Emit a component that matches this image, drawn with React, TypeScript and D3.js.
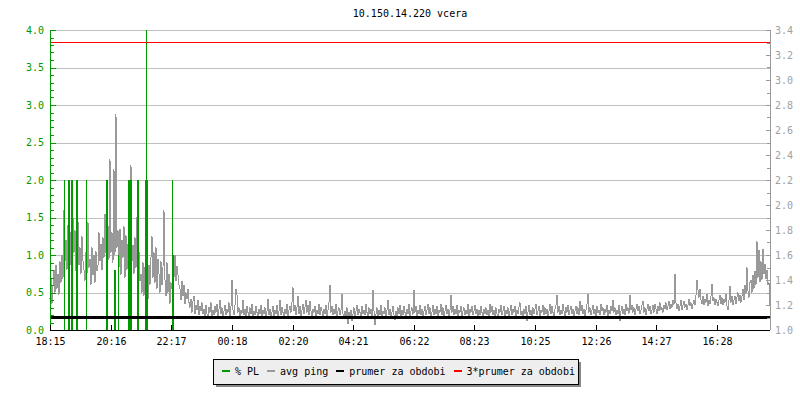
import React from 'react';
import * as d3 from 'd3';

const title = '10.150.14.220 vcera';
const xTickLabels = ['18:15', '20:16', '22:17', '00:18', '02:20', '04:21', '06:22', '08:23', '10:25', '12:26', '14:27', '16:28'];
const leftTicks = [0, 0.5, 1.0, 1.5, 2.0, 2.5, 3.0, 3.5, 4.0];
const rightTicks = [1.0, 1.2, 1.4, 1.6, 1.8, 2.0, 2.2, 2.4, 2.6, 2.8, 3.0, 3.2, 3.4];
const pingStepMinutes = 2;
// avg ping (ms), one sample every 2 minutes starting 18:15
const avgPing = [
  1.25, 1.42, 1.21, 1.36, 1.48, 1.30, 1.52, 1.33, 1.45, 1.28, 1.55, 1.38, 1.60, 1.41,
  1.96, 1.55, 1.72, 1.48, 1.84, 1.60, 1.52, 1.78, 1.50, 1.90,
  1.62, 1.80, 1.47, 1.70, 1.87, 1.52, 1.66, 1.45, 1.75, 1.55,
  1.48, 1.39, 1.62, 1.45, 1.86, 1.50, 1.57, 1.36, 1.66, 1.44, 1.60, 1.38, 1.63, 1.47,
  1.52, 1.78, 1.55, 1.69, 1.48, 1.74, 1.58, 1.93, 1.62, 1.50, 1.84, 1.56, 2.37,
  1.62, 1.78, 1.54, 2.29, 1.60, 2.73, 1.66, 1.80,
  1.50, 1.81, 1.44, 1.72, 1.58, 1.83, 1.42, 1.76, 1.48, 1.69, 1.53, 1.78,
  2.32, 1.55, 1.68, 1.45, 1.74, 1.50, 1.90, 1.42, 1.63, 1.39,
  1.45, 1.30, 1.54, 1.27, 1.50, 1.33, 1.48, 1.24, 1.52, 1.36,
  1.58, 1.75, 1.42, 1.62, 1.38, 1.66, 1.33, 1.57, 1.45, 1.30, 1.55, 1.36, 1.50, 1.96,
  1.40, 1.27, 1.54, 1.30, 1.45, 1.21, 1.38, 1.33,
  1.57, 1.42, 1.60, 1.39, 1.51, 1.44, 1.36,
  1.33, 1.24, 1.39, 1.27, 1.36, 1.21, 1.30, 1.25, 1.33, 1.22,
  1.18, 1.25, 1.14, 1.23, 1.27, 1.13, 1.20, 1.16, 1.24, 1.12, 1.19, 1.15, 1.22, 1.13,
  1.17, 1.11, 1.20, 1.13, 1.09, 1.18, 1.14, 1.22, 1.10, 1.16,
  1.12, 1.19, 1.14, 1.21, 1.11, 1.17, 1.24, 1.13, 1.18, 1.10,
  1.15, 1.20, 1.12, 1.17, 1.14, 1.22, 1.11, 1.19, 1.40, 1.16,
  1.12, 1.20, 1.33, 1.28, 1.14, 1.18, 1.11, 1.16, 1.13, 1.24,
  1.12, 1.17, 1.10, 1.19, 1.14, 1.11, 1.18, 1.13, 1.21, 1.09,
  1.15, 1.12, 1.19, 1.14, 1.10, 1.17, 1.13, 1.20, 1.11, 1.16,
  1.13, 1.18, 1.10, 1.15, 1.25, 1.12, 1.17, 1.09, 1.14, 1.19,
  1.11, 1.16, 1.13, 1.20, 1.10, 1.15, 1.24, 1.12, 1.18, 1.14,
  1.10, 1.17, 1.13, 1.21, 1.11, 1.16, 1.19, 1.14, 1.22, 1.34,
  1.15, 1.20, 1.12, 1.18, 1.27, 1.13, 1.19, 1.11, 1.16, 1.21,
  1.13, 1.18, 1.24, 1.14, 1.20, 1.12, 1.23, 1.15, 1.11, 1.17,
  1.14, 1.19, 1.10, 1.16, 1.13, 1.21, 1.12, 1.18, 1.15, 1.11,
  1.17, 1.13, 1.20, 1.09, 1.16, 1.22, 1.36, 1.14, 1.19, 1.12,
  1.17, 1.13, 1.21, 1.10, 1.15, 1.18, 1.12, 1.16, 1.29, 1.13,
  1.09, 1.15, 1.11, 1.18, 1.05, 1.14, 1.10, 1.16, 1.07, 1.13,
  1.18, 1.11, 1.15, 1.20, 1.12, 1.17, 1.14, 1.10, 1.19, 1.13,
  1.16, 1.12, 1.21, 1.14, 1.10, 1.18, 1.13, 1.17, 1.11, 1.32,
  1.15, 1.04, 1.13, 1.18, 1.11, 1.16, 1.12, 1.20, 1.09, 1.15,
  1.13, 1.18, 1.11, 1.16, 1.24, 1.12, 1.17, 1.10, 1.14, 1.19,
  1.12, 1.08, 1.15, 1.11, 1.18, 1.13, 1.20, 1.10, 1.16, 1.12,
  1.19, 1.14, 1.11, 1.17, 1.13, 1.21, 1.10, 1.15, 1.18, 1.12,
  1.32, 1.14, 1.19, 1.11, 1.16, 1.13, 1.20, 1.12, 1.17, 1.10,
  1.15, 1.19, 1.12, 1.16, 1.21, 1.13, 1.18, 1.11, 1.14, 1.20,
  1.12, 1.17, 1.13, 1.19, 1.10, 1.16, 1.14, 1.21, 1.12, 1.18,
  1.11, 1.15, 1.20, 1.13, 1.17, 1.10, 1.16, 1.28, 1.14, 1.19,
  1.12, 1.17, 1.13, 1.20, 1.11, 1.16, 1.14, 1.19, 1.10, 1.15,
  1.18, 1.12, 1.16, 1.13, 1.21, 1.11, 1.17, 1.14, 1.19, 1.12,
  1.15, 1.20, 1.13, 1.17, 1.10, 1.16, 1.12, 1.19, 1.14, 1.11,
  1.17, 1.13, 1.18, 1.12, 1.16, 1.10, 1.21, 1.14, 1.19, 1.12,
  1.16, 1.11, 1.18, 1.13, 1.10, 1.17, 1.14, 1.20, 1.12, 1.15,
  1.19, 1.11, 1.16, 1.13, 1.18, 1.10, 1.15, 1.20, 1.12, 1.17,
  1.14, 1.19, 1.11, 1.16, 1.13, 1.18, 1.22, 1.12, 1.15, 1.10,
  1.17, 1.13, 1.19, 1.07, 1.14, 1.20, 1.12, 1.16, 1.11, 1.18,
  1.13, 1.17, 1.21, 1.12, 1.15, 1.19, 1.11, 1.16, 1.14, 1.20,
  1.12, 1.18, 1.13, 1.17, 1.10, 1.15, 1.21, 1.13, 1.19, 1.14,
  1.11, 1.17, 1.20, 1.28, 1.14, 1.19, 1.12, 1.16, 1.13, 1.21,
  1.15, 1.11, 1.18, 1.14, 1.20, 1.12, 1.16, 1.19, 1.13, 1.17,
  1.10, 1.15, 1.19, 1.13, 1.18, 1.12, 1.23, 1.15, 1.20, 1.13,
  1.17, 1.11, 1.16, 1.21, 1.29, 1.14, 1.18, 1.12, 1.16, 1.20,
  1.13, 1.17, 1.11, 1.19, 1.14, 1.16, 1.12, 1.21, 1.15, 1.18,
  1.12, 1.17, 1.14, 1.20, 1.11, 1.16, 1.13, 1.19, 1.15, 1.24,
  1.14, 1.18, 1.12, 1.16, 1.13, 1.20, 1.07, 1.15, 1.19, 1.13,
  1.17, 1.12, 1.21, 1.15, 1.18, 1.13, 1.28, 1.16, 1.20, 1.14,
  1.18, 1.12, 1.17, 1.21, 1.15, 1.19, 1.13, 1.16, 1.20, 1.23,
  1.14, 1.18, 1.12, 1.17, 1.21, 1.15, 1.19, 1.13, 1.16, 1.20,
  1.14, 1.21, 1.17, 1.13, 1.19, 1.15, 1.22, 1.16, 1.18, 1.14,
  1.20, 1.17, 1.22, 1.16, 1.19, 1.23, 1.17, 1.21, 1.18, 1.24,
  1.20, 1.45, 1.22, 1.17, 1.21, 1.15, 1.19, 1.24, 1.16, 1.20,
  1.23, 1.18, 1.21, 1.16, 1.20, 1.25, 1.19, 1.22, 1.17, 1.21,
  1.24, 1.20, 1.28, 1.40, 1.32, 1.26, 1.33, 1.24, 1.21, 1.27,
  1.20, 1.25, 1.22, 1.29, 1.19, 1.24, 1.21, 1.27, 1.37, 1.23,
  1.26, 1.20, 1.25, 1.22, 1.19, 1.24, 1.28, 1.21, 1.26, 1.20,
  1.25, 1.22, 1.29, 1.19, 1.16, 1.24, 1.35, 1.22, 1.27, 1.20,
  1.24, 1.27, 1.21, 1.26, 1.30, 1.23, 1.28, 1.22,
  1.27, 1.33, 1.24, 1.36, 1.29, 1.50, 1.31, 1.26, 1.38, 1.40,
  1.30, 1.44, 1.33, 1.47, 1.36, 1.71, 1.42, 1.64, 1.38, 1.55,
  1.40, 1.65, 1.45, 1.53, 1.41, 1.48, 1.36, 1.38, 1.20,
];
// packet loss (%), minutes after 18:15 and values
const plMinutes = [27, 36, 38, 42, 44, 51, 53, 71, 111, 113, 128, 130, 135, 156, 158, 160, 162, 174, 176, 190, 192, 194, 244, 246];
const plValues = [2, 2, 2, 2, 2, 2, 2, 2, 2, 2, 0.8, 0.8, 1.0, 2, 2, 2, 2, 2, 2, 2, 4, 2, 2, 1];
const meanPing = 1.1;
const legendLabels = ['% PL', 'avg ping', 'prumer za obdobi', '3*prumer za obdobi'];
const legendColors = ['#009900', '#999999', '#000000', '#ff0000'];

const FONT = '"DejaVu Sans Mono", monospace';

function minutesAfterStart(label: string): number {
  const [h, m] = label.split(':').map(Number);
  let t = h * 60 + m - (18 * 60 + 15);
  if (t < 0) t += 1440;
  return t;
}

export default function App() {
  const x = d3.scaleLinear().domain([0, 1440]).range([50, 770]);
  const yL = d3.scaleLinear().domain([0, 4]).range([330, 30]);
  const yR = d3.scaleLinear().domain([1.0, 3.4]).range([330, 30]);

  const pingLine = d3
    .line<number>()
    .x((_, i) => x(i * pingStepMinutes))
    .y((d) => yR(d));

  const leftMinor = yL.ticks(40);
  const rightMinor = yR.ticks(24);

  const charW = 6.02;
  let lx = 222;
  const legendPos = legendLabels.map((l) => {
    const p = { sx: lx, tx: lx + 13 };
    lx = lx + 13 + l.length * charW + 8;
    return p;
  });

  return (
    <svg width={800} height={400} style={{ position: 'absolute', left: 0, top: 0, background: '#fff' }} fontFamily={FONT}>
      <rect x={0} y={0} width={800} height={400} fill="#fff" />
      <text x={410} y={17} fontSize={10} textAnchor="middle" fill="#000">{title}</text>

      {/* grid */}
      {leftTicks.filter((t) => t > 0).map((t) => (
        <line key={'g' + t} x1={50} x2={770} y1={Math.round(yL(t)) + 0.5} y2={Math.round(yL(t)) + 0.5} stroke="#c0c0c0" strokeWidth={1} shapeRendering="crispEdges" />
      ))}

      {/* avg ping */}
      <path d={pingLine(avgPing) || ''} fill="none" stroke="#999999" strokeWidth={1} shapeRendering="crispEdges" />

      {/* packet loss */}
      {plMinutes.map((m, i) => (
        <rect key={'pl' + i} x={Math.round(x(m))} width={Math.max(1, Math.round(x(m + 2) - x(m)))} y={yL(plValues[i])} height={yL(0) - yL(plValues[i])} fill="#009900" shapeRendering="crispEdges" />
      ))}

      {/* mean lines */}
      <line x1={50} x2={770} y1={yR(meanPing)} y2={yR(meanPing)} stroke="#000" strokeWidth={2.5} shapeRendering="crispEdges" />
      <line x1={50} x2={770} y1={yR(3 * meanPing)} y2={yR(3 * meanPing)} stroke="#ff0000" strokeWidth={1.6} shapeRendering="crispEdges" />

      {/* left axis */}
      <line x1={50.5} x2={50.5} y1={30} y2={330} stroke="#009900" strokeWidth={1} shapeRendering="crispEdges" />
      {leftMinor.map((t) => (
        <line key={'lm' + t} x1={50} x2={54} y1={Math.round(yL(t)) + 0.5} y2={Math.round(yL(t)) + 0.5} stroke="#009900" strokeWidth={1} shapeRendering="crispEdges" />
      ))}
      {leftTicks.map((t) => (
        <g key={'lt' + t}>
          <line x1={50} x2={56} y1={Math.round(yL(t)) + 0.5} y2={Math.round(yL(t)) + 0.5} stroke="#009900" strokeWidth={1} shapeRendering="crispEdges" />
          <text x={44} y={yL(t) + 3.5} fontSize={10} textAnchor="end" fill="#009900">{t.toFixed(1)}</text>
        </g>
      ))}

      {/* right axis */}
      <line x1={770.5} x2={770.5} y1={30} y2={330} stroke="#999999" strokeWidth={1} shapeRendering="crispEdges" />
      {rightMinor.map((t) => (
        <line key={'rm' + t} x1={767} x2={770} y1={Math.round(yR(t)) + 0.5} y2={Math.round(yR(t)) + 0.5} stroke="#999999" strokeWidth={1} shapeRendering="crispEdges" />
      ))}
      {rightTicks.map((t) => (
        <g key={'rt' + t}>
          <line x1={766} x2={770} y1={Math.round(yR(t)) + 0.5} y2={Math.round(yR(t)) + 0.5} stroke="#999999" strokeWidth={1} shapeRendering="crispEdges" />
          <text x={775} y={yR(t) + 3.5} fontSize={10} textAnchor="start" fill="#a0a0a0">{t.toFixed(1)}</text>
        </g>
      ))}

      {/* bottom axis */}
      <line x1={50} x2={770} y1={330.5} y2={330.5} stroke="#000" strokeWidth={1} shapeRendering="crispEdges" />
      {xTickLabels.map((l) => {
        const px = Math.round(x(minutesAfterStart(l))) + 0.5;
        return (
          <g key={'xt' + l}>
            <line x1={px} x2={px} y1={325} y2={330} stroke="#000" strokeWidth={1} shapeRendering="crispEdges" />
            <text x={px} y={345} fontSize={10} textAnchor="middle" fill="#000">{l}</text>
          </g>
        );
      })}

      {/* legend */}
      <rect x={216} y={362} width={365} height={25} fill="#888" shapeRendering="crispEdges" />
      <rect x={213.5} y={359.5} width={365} height={25} fill="#eeeeee" stroke="#000" strokeWidth={1} shapeRendering="crispEdges" />
      {legendLabels.map((l, i) => (
        <g key={'lg' + i}>
          <rect x={legendPos[i].sx} y={370} width={8} height={2} fill={legendColors[i]} shapeRendering="crispEdges" />
          <text x={legendPos[i].tx} y={375} fontSize={10} fill="#000">{l}</text>
        </g>
      ))}
    </svg>
  );
}
